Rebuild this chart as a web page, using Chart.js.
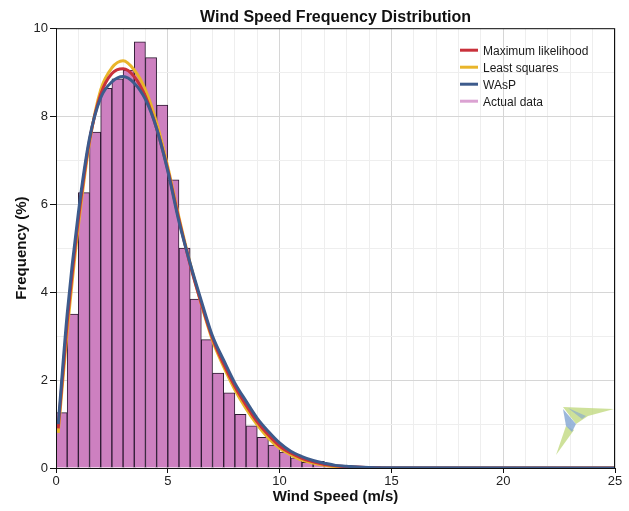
<!DOCTYPE html>
<html>
<head>
<meta charset="utf-8">
<title>Wind Speed Frequency Distribution</title>
<script src="https://cdn.jsdelivr.net/npm/chart.js@4/dist/chart.umd.min.js"></script>
<style>
    body { margin: 0; background: #ffffff; }
    #wind-chart { display: block; }
</style>
</head>
<body>
<canvas id="wind-chart" width="629" height="511"></canvas>
<script>
// histogram bins (0.5 m/s wide, given by their centre)
const binCenters = [0.25, 0.75, 1.25, 1.75, 2.25, 2.75, 3.25, 3.75, 4.25, 4.75,
    5.25, 5.75, 6.25, 6.75, 7.25, 7.75, 8.25, 8.75, 9.25, 9.75,
    10.25, 10.75, 11.25, 11.75, 12.25, 12.75, 13.25, 13.75, 14.25];
const actualFreq = [1.26, 3.5, 6.26, 7.64, 8.63, 8.85, 9.05, 9.69, 9.33, 8.25,
    6.55, 5.0, 3.84, 2.92, 2.16, 1.71, 1.22, 0.96, 0.7, 0.52,
    0.36, 0.23, 0.13, 0.15, 0.06, 0.04, 0.03, 0.02, 0.04];

// fitted curves
const curveSpeeds = [0.1, 0.5, 1, 1.5, 2, 2.5, 3, 3.5, 4, 4.5, 5, 5.5, 6, 6.5, 7, 7.5,
    8, 8.5, 9, 9.5, 10, 10.5, 11, 11.5, 12, 12.5, 13, 13.5, 14, 15, 25];
const maxLikelihood = [0.9, 3.3, 5.65, 7.45, 8.5, 8.97, 9.08, 8.9, 8.45, 7.72, 6.78, 5.65, 4.62, 3.74, 2.95, 2.36,
    1.85, 1.43, 1.05, 0.75, 0.5, 0.34, 0.22, 0.14, 0.08, 0.05, 0.03, 0.02, 0.01, 0, 0];
const leastSquares = [0.8, 3.1, 5.5, 7.4, 8.6, 9.1, 9.26, 9.05, 8.6, 7.85, 6.85, 5.7, 4.65, 3.72, 2.9, 2.3,
    1.78, 1.35, 0.98, 0.68, 0.45, 0.3, 0.18, 0.11, 0.06, 0.03, 0.02, 0.01, 0, 0, 0];
const wasp = [1.0, 3.5, 5.8, 7.5, 8.42, 8.78, 8.9, 8.75, 8.38, 7.72, 6.75, 5.6, 4.65, 3.8, 3.0, 2.45,
    1.93, 1.52, 1.13, 0.83, 0.57, 0.38, 0.26, 0.17, 0.11, 0.06, 0.04, 0.02, 0.01, 0.005, 0];

const xTicks = [0, 5, 10, 15, 20, 25];
const yTicks = [0, 2, 4, 6, 8, 10];

const RED = '#c9313b';
const GOLD = '#e9b52a';
const NAVY = '#3d5b8c';
const PINK = '#cd80c0';

function points(xs, ys) {
    return xs.map((x, i) => ({x: x, y: ys[i]}));
}

function curve(label, values, color, order) {
    return {
        type: 'line',
        label: label,
        data: points(curveSpeeds, values),
        borderColor: color,
        backgroundColor: color,
        borderWidth: 3,
        pointRadius: 0,
        cubicInterpolationMode: 'monotone',
        fill: false,
        order: order
    };
}

const legendSwatch = [RED, GOLD, NAVY, '#dba2d2'];

// legend drawn inside the plot, top right
const insideLegend = {
    id: 'insideLegend',
    afterDraw(chart) {
        const ctx = chart.ctx;
        const area = chart.chartArea;
        const x0 = area.right - 155;
        let y = area.top + 22;
        ctx.save();
        ctx.font = '12px "Liberation Sans", Arial, sans-serif';
        ctx.textBaseline = 'middle';
        chart.data.datasets.forEach((ds, i) => {
            ctx.strokeStyle = legendSwatch[i];
            ctx.lineWidth = 3;
            ctx.beginPath();
            ctx.moveTo(x0, y);
            ctx.lineTo(x0 + 18, y);
            ctx.stroke();
            ctx.fillStyle = '#1a1a1a';
            ctx.fillText(ds.label, x0 + 23, y + 1);
            y += 17;
        });
        ctx.restore();
    }
};

// frame round the plot area and the small bird mark in the corner
const plotFrame = {
    id: 'plotFrame',
    beforeDatasetsDraw(chart) {
        const ctx = chart.ctx;
        const a = chart.chartArea;
        const r = a.right, b = a.bottom;
        const shapes = [
            ['rgba(190,215,120,0.75)', [[-52, -61], [-1, -59], [-27, -52], [-39, -44]]],
            ['rgba(190,215,120,0.75)', [[-49, -42], [-41, -38], [-59, -13]]],
            ['rgba(130,165,210,0.8)', [[-52, -59], [-39, -44], [-43, -36], [-49, -42]]],
            ['rgba(130,165,210,0.6)', [[-47, -60], [-33, -49], [-29, -52]]]
        ];
        ctx.save();
        shapes.forEach(([color, pts]) => {
            ctx.fillStyle = color;
            ctx.beginPath();
            pts.forEach(([dx, dy], i) => {
                if (i === 0) ctx.moveTo(r + dx, b + dy);
                else ctx.lineTo(r + dx, b + dy);
            });
            ctx.closePath();
            ctx.fill();
        });
        ctx.restore();
    },
    afterDraw(chart) {
        const a = chart.chartArea;
        const ctx = chart.ctx;
        ctx.save();
        ctx.strokeStyle = '#111';
        ctx.lineWidth = 1;
        ctx.strokeRect(a.left + 0.5, a.top + 0.5, a.right - a.left - 1, a.bottom - a.top);
        ctx.restore();
    }
};

const windCanvas = document.getElementById('wind-chart');

const windData = {
    datasets: [
        curve('Maximum likelihood', maxLikelihood, RED, 2),
        curve('Least squares', leastSquares, GOLD, 3),
        curve('WAsP', wasp, NAVY, 1),
        {
            type: 'bar',
            label: 'Actual data',
            data: points(binCenters, actualFreq),
            backgroundColor: PINK,
            borderColor: '#2e1a33',
            borderWidth: 1,
            barPercentage: 1.0,
            categoryPercentage: 1.0,
            order: 4
        }
    ]
};

const windOptions = {
    responsive: false,
    animation: false,
    layout: {
        padding: {left: 0, right: 14, top: 0, bottom: 0}
    },
    scales: {
        x: {
            type: 'linear',
            min: 0,
            max: 25,
            offset: false,
            afterFit: scale => { scale.height = 43; },
            afterBuildTicks: scale => {
                scale.ticks = [];
                for (let v = 0; v <= 25; v++) scale.ticks.push({value: v});
            },
            ticks: {
                autoSkip: false,
                maxRotation: 0,
                padding: 1,
                color: '#222',
                font: {family: '"Liberation Sans", Arial, sans-serif', size: 13},
                callback: v => xTicks.includes(v) ? v : ''
            },
            grid: {
                offset: false,
                tickLength: 5,
                color: c => xTicks.includes(c.tick.value) ? '#d6d6d6' : '#eeeeee',
                tickColor: c => xTicks.includes(c.tick.value) ? '#111' : 'rgba(0,0,0,0)'
            },
            border: {color: '#111', width: 1},
            title: {
                display: true,
                text: 'Wind Speed (m/s)',
                color: '#111',
                font: {family: '"Liberation Sans", Arial, sans-serif', size: 15, weight: 'bold'},
                padding: {top: 0, bottom: 5}
            }
        },
        y: {
            type: 'linear',
            min: 0,
            max: 10,
            afterFit: scale => { scale.width = 56; },
            afterBuildTicks: scale => {
                scale.ticks = [];
                for (let v = 0; v <= 10; v++) scale.ticks.push({value: v});
            },
            ticks: {
                autoSkip: false,
                padding: 2,
                color: '#222',
                font: {family: '"Liberation Sans", Arial, sans-serif', size: 13},
                callback: v => yTicks.includes(v) ? v : ''
            },
            grid: {
                tickLength: 6,
                color: c => yTicks.includes(c.tick.value) ? '#d6d6d6' : '#eeeeee',
                tickColor: c => yTicks.includes(c.tick.value) ? '#111' : 'rgba(0,0,0,0)'
            },
            border: {color: '#111', width: 1},
            title: {
                display: true,
                text: 'Frequency (%)',
                color: '#111',
                font: {family: '"Liberation Sans", Arial, sans-serif', size: 15, weight: 'bold'},
                padding: {top: 13, bottom: 0}
            }
        }
    },
    plugins: {
        legend: {display: false},
        tooltip: {enabled: false},
        title: {
            display: true,
            fullSize: false,
            text: 'Wind Speed Frequency Distribution',
            color: '#111',
            font: {family: '"Liberation Sans", Arial, sans-serif', size: 16, weight: 'bold'},
            padding: {top: 8, bottom: 1}
        }
    }
};

let windChart = new Chart(windCanvas, {
    type: 'line',
    data: windData,
    options: windOptions,
    plugins: [plotFrame, insideLegend]
});
</script>
</body>
</html>
